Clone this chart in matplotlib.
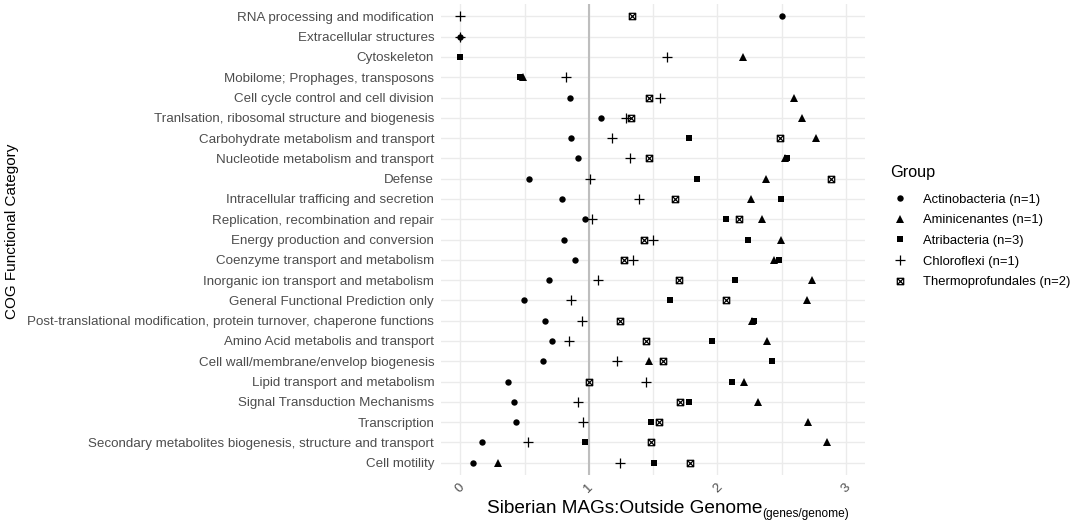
import numpy as np
import matplotlib.pyplot as plt
from matplotlib.path import Path
from matplotlib.lines import Line2D

plt.rcParams['font.family'] = ['Liberation Sans', 'DejaVu Sans']

nan = np.nan

# COG categories, top to bottom
categories = [
    'RNA processing and modification',
    'Extracellular structures',
    'Cytoskeleton',
    'Mobilome; Prophages, transposons',
    'Cell cycle control and cell division',
    'Tranlsation, ribosomal structure and biogenesis',
    'Carbohydrate metabolism and transport',
    'Nucleotide metabolism and transport',
    'Defense',
    'Intracellular trafficing and secretion',
    'Replication, recombination and repair',
    'Energy production and conversion',
    'Coenzyme transport and metabolism',
    'Inorganic ion transport and metabolism',
    'General Functional Prediction only',
    'Post-translational modification, protein turnover, chaperone functions',
    'Amino Acid metabolis and transport',
    'Cell wall/membrane/envelop biogenesis',
    'Lipid transport and metabolism',
    'Signal Transduction Mechanisms',
    'Transcription',
    'Secondary metabolites biogenesis, structure and transport',
    'Cell motility',
]

actinobacteria = [2.506, 0.0, nan, nan, 0.855, 1.094, 0.860, 0.914, 0.535, 0.790,
                  0.969, 0.805, 0.891, 0.686, 0.494, 0.657, 0.709, 0.639, 0.374,
                  0.416, 0.434, 0.166, 0.099]
aminicenantes = [nan, nan, 2.197, 0.488, 2.600, 2.662, 2.771, 2.527, 2.379, 2.265,
                 2.345, 2.499, 2.444, 2.738, 2.701, 2.268, 2.390, 1.468, 2.208,
                 2.314, 2.704, 2.852, 0.294]
atribacteria = [nan, nan, 0.0, 0.462, nan, nan, 1.777, 2.543, 1.839, 2.494,
                2.065, 2.239, 2.478, 2.135, 1.629, 2.286, 1.958, 2.426, 2.114,
                1.777, 1.481, 0.971, 1.506]
chloroflexi = [0.0, 0.0, 1.605, 0.821, 1.553, 1.288, 1.177, 1.322, 1.005, 1.387,
               1.023, 1.501, 1.340, 1.068, 0.862, 0.945, 0.847, 1.218, 1.444,
               0.914, 0.956, 0.527, 1.242]
thermoprofundales = [1.332, nan, nan, nan, 1.470, 1.327, 2.491, 1.470, 2.886, 1.670,
                     2.171, 1.431, 1.273, 1.701, 2.068, 1.244, 1.444, 1.577, 1.003,
                     1.712, 1.545, 1.481, 1.790]

group_labels = ['Actinobacteria (n=1)', 'Aminicenantes (n=1)', 'Atribacteria (n=3)',
                'Chloroflexi (n=1)', 'Thermoprofundales (n=2)']

# square with a cross inside (hollow)
box_x = Path(
    [(-1, -1), (1, -1), (1, 1), (-1, 1), (-1, -1), (-1, -1), (1, 1), (-1, 1), (1, -1)],
    [Path.MOVETO, Path.LINETO, Path.LINETO, Path.LINETO, Path.CLOSEPOLY,
     Path.MOVETO, Path.LINETO, Path.MOVETO, Path.LINETO])

styles = [
    dict(marker='o', ms=4.6, mfc='black', mec='black', mew=0),
    dict(marker='^', ms=5.4, mfc='black', mec='black', mew=0),
    dict(marker='s', ms=4.4, mfc='black', mec='black', mew=0),
    dict(marker='+', ms=7.5, mfc='none', mec='black', mew=0.9),
    dict(marker=box_x, ms=4.6, mfc='none', mec='black', mew=0.9),
]
series = [actinobacteria, aminicenantes, atribacteria, chloroflexi, thermoprofundales]

fig = plt.figure(figsize=(10.76, 5.23), dpi=100)
ax = fig.add_axes([0.41, 0.092, 0.394, 0.9])

y = np.arange(len(categories))[::-1]
ax.axvline(1, color='#BEBEBE', lw=1.5, zorder=1)
for vals, st in zip(series, styles):
    ax.plot(vals, y, ls='none', zorder=3, **st)

ax.set_xlim(-0.15, 3.15)
ax.set_ylim(-0.6, len(categories) - 0.4)
ax.set_yticks(y)
ax.set_yticklabels(categories)
ax.set_xticks([0, 1, 2, 3])
ax.set_xticks([0.5, 1.5, 2.5], minor=True)
ax.set_xticklabels(['0', '1', '2', '3'], rotation=45, ha='center', va='top')
ax.grid(True, which='both', color='#EBEBEB', lw=1.0, zorder=0)
ax.set_axisbelow(True)
ax.tick_params(axis='both', which='both', length=0, colors='#4D4D4D', labelsize=9.6)
ax.tick_params(axis='x', pad=5)
ax.tick_params(axis='y', pad=5)
for s in ax.spines.values():
    s.set_visible(False)

# axis titles
fig.text(12 / 1076, (523 - 231.5) / 523, 'COG Functional Category', rotation=90,
         ha='center', va='center', fontsize=11)
main = fig.text(487 / 1076, (523 - 513) / 523, 'Siberian MAGs:Outside Genome',
                ha='left', va='baseline', fontsize=13.7)
fig.canvas.draw()
x_end = main.get_window_extent().x1
fig.text(x_end / 1076, (523 - 517) / 523, '(genes/genome)', ha='left',
         va='baseline', fontsize=8.6)

# legend
fig.text(890 / 1076, (523 - 173) / 523, 'Group', ha='left', va='center', fontsize=11.7)
handles = [Line2D([], [], ls='none', **st) for st in styles]
fig.legend(handles, group_labels, loc='upper left', bbox_to_anchor=(892 / 1076, 0.630),
           frameon=False, fontsize=9.4, handlelength=1.2, handletextpad=1.15,
           labelspacing=0.65, borderpad=0, borderaxespad=0)

fig.savefig('out.png', dpi=100)
